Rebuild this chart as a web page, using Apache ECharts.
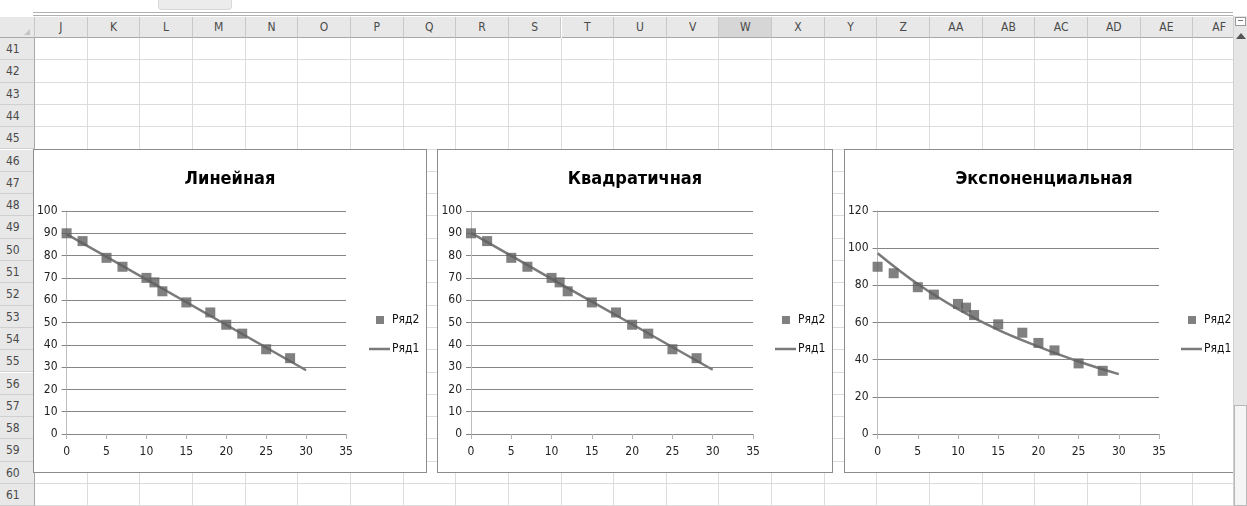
<!DOCTYPE html>
<html><head><meta charset="utf-8">
<script src="https://cdn.jsdelivr.net/npm/echarts@6/dist/echarts.min.js"></script>
<style>
html,body{margin:0;padding:0;background:#fff;width:1247px;height:506px;overflow:hidden;position:relative;font-family:'DejaVu Sans Condensed','Liberation Sans Narrow',sans-serif;}
.abs{position:absolute;box-sizing:border-box;}
.hdr{background:#e8e8e8;color:#4a4a4a;font-size:12px;text-align:center;}
.chart{position:absolute;box-sizing:border-box;background:#fff;border:1px solid #8c8c8c;}
</style></head><body>
<div id="sheet"></div>
<div id="c1" class="chart" style="left:33px;top:149px;width:394px;height:324px"></div>
<div id="c2" class="chart" style="left:437px;top:149px;width:396px;height:324px"></div>
<div id="c3" class="chart" style="left:844px;top:149px;width:400px;height:324px"></div>
<div class="abs" style="left:1233px;top:16px;width:14px;height:490px;background:#e6e6e6;border-left:1px solid #d0d0d0"></div>
<div class="abs" style="left:1234px;top:405px;width:13px;height:101px;background:#f5f5f5;border:1px solid #b8b8b8"></div>
<div class="abs" style="left:1235px;top:17px;width:11px;height:9px;border:1px solid #9a9a9a;background:#fff"></div>
<div class="abs" style="left:1238px;top:20px;width:5px;height:1px;background:#777"></div>
<div class="abs" style="left:1236px;top:33px;width:0;height:0;border-left:5px solid transparent;border-right:5px solid transparent;border-bottom:6px solid #555"></div>
<script>
// ---- data ----
const title1 = 'Линейная';
const title2 = 'Квадратичная';
const title3 = 'Экспоненциальная';
const legendPoints = 'Ряд2';
const legendLine = 'Ряд1';
const pointX = [0, 2, 5, 7, 10, 11, 12, 15, 18, 20, 22, 25, 28];
const pointY = [90, 86.5, 79, 75, 70, 68, 64, 59, 54.5, 49, 45, 38, 34];
const linX = [0, 30];
const linY = [89.6, 28.6];
const quadX = [0, 10, 20, 30];
const quadY = [90.2, 69.6, 49.2, 28.8];
const expX = [0, 5, 10, 15, 20, 25, 30];
const expY = [97.3, 80.7, 67.2, 56, 47, 39, 32.2];
const colLetters = ['J','K','L','M','N','O','P','Q','R','S','T','U','V','W','X','Y','Z','AA','AB','AC','AD','AE','AF'];
const rowNumbers = [41,42,43,44,45,46,47,48,49,50,51,52,53,54,55,56,57,58,59,60,61];

// ---- spreadsheet background ----
const sheet = document.getElementById('sheet');
function box(l,t,w,h,css,txt){const d=document.createElement('div');d.className='abs';d.style.cssText=`left:${l}px;top:${t}px;width:${w}px;height:${h}px;`+css;if(txt!==undefined)d.textContent=txt;sheet.appendChild(d);return d;}
box(158,0,74,10,'background:#ececec;border-radius:0 0 4px 4px;border:1px solid #d8d8d8;border-top:none');
box(33,12,1200,1,'background:#b0b0b0');
box(33,15,1200,1,'background:#b0b0b0');
const colW = 52.65, x0 = 35, hTop = 17, hBot = 38, rowH = 22.3;
box(0,hTop,x0,hBot-hTop,'background:#e8e8e8;border-right:1px solid #c8c8c8;border-bottom:1px solid #a8a8a8');
box(24,29,0,0,'border-left:6px solid transparent;border-bottom:6px solid #c4c4c4');
colLetters.forEach((c,i)=>{
  const l = x0 + i*colW;
  const d = box(l,hTop,colW,hBot-hTop,'line-height:20px;border-right:1px solid #c8c8c8;border-bottom:1px solid #a8a8a8;',c);
  d.classList.add('hdr'); if(c==='W') d.style.background='#d6d6d6';
  box(l+colW-1,hBot,1,506-hBot,'background:#dcdcdc');
});
rowNumbers.forEach((n,i)=>{
  const t = hBot + i*rowH;
  const d = box(0,t,x0,rowH,'line-height:22px;padding-left:6px;border-right:1px solid #a8a8a8;border-bottom:1px solid #cfcfcf',String(n));
  d.classList.add('hdr'); d.style.textAlign='left';
  box(x0,t+rowH-1,1198,1,'background:#dcdcdc');
});

// ---- charts ----
const FONT = "'DejaVu Sans Condensed','Liberation Sans Narrow',sans-serif";
function makeChart(id, title, lineX, lineY, yMax, yInt, smooth, gridLeft, legLeft){
  const ch = echarts.init(document.getElementById(id), null, {renderer:'canvas'});
  ch.setOption({
    animation:false,
    title:{text:title,left:'center',top:15,textStyle:{fontFamily:FONT,fontSize:18,fontWeight:'bold',color:'#000'}},
    grid:{left:gridLeft,top:61,width:282,height:223,containLabel:false},
    legend:[
      {data:[{name:legendPoints,icon:'rect'}],left:legLeft,top:164,padding:0,itemWidth:8,itemHeight:8,
        textStyle:{fontFamily:FONT,fontSize:12,color:'#111',padding:[0,0,0,3]}},
      {data:[{name:legendLine,icon:'rect',itemStyle:{color:'#7a7a7a'}}],left:legLeft-7,top:193,padding:0,itemWidth:21,itemHeight:2.5,
        textStyle:{fontFamily:FONT,fontSize:12,color:'#111',padding:[0,0,0,-3]}}
    ],
    xAxis:{type:'value',min:0,max:35,interval:5,
      axisLine:{show:true,onZero:true,lineStyle:{color:'#858585',width:1}},
      axisTick:{show:true,length:5,lineStyle:{color:'#b0b0b0'}},
      axisLabel:{margin:12,fontFamily:FONT,fontSize:12,color:'#222'},
      splitLine:{show:false}},
    yAxis:{type:'value',min:0,max:yMax,interval:yInt,
      axisLine:{show:true,lineStyle:{color:'#bdbdbd',width:1}},
      axisTick:{show:true,length:5,lineStyle:{color:'#858585'}},
      axisLabel:{margin:9,fontFamily:FONT,fontSize:12,color:'#222'},
      splitLine:{show:true,lineStyle:{color:'#858585',width:1}}},
    series:[
      {name:legendLine,type:'line',data:lineX.map((x,i)=>[x,lineY[i]]),symbol:'none',smooth:smooth,
        lineStyle:{color:'#7a7a7a',width:2.5},itemStyle:{color:'#7a7a7a'},z:2},
      {name:legendPoints,type:'scatter',data:pointX.map((x,i)=>[x,pointY[i]]),symbol:'rect',symbolSize:10,
        itemStyle:{color:'#606060'},z:3}
    ]
  });
}
makeChart('c1', title1, linX, linY, 100, 10, false, 30, 342);
makeChart('c2', title2, quadX, quadY, 100, 10, 0.3, 33, 344);
makeChart('c3', title3, expX, expY, 120, 20, 0.4, 32, 343);
</script>
</body></html>
